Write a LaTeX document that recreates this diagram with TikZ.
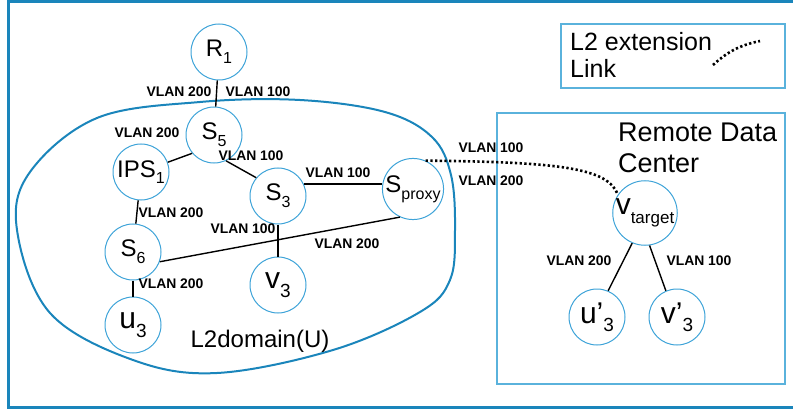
\documentclass[tikz,border=0pt]{standalone}
\usepackage{fontspec}
\setmainfont{Liberation Sans}
\usepackage{tikz}

\definecolor{framecol}{HTML}{1A85BB}
\definecolor{nodecol}{HTML}{3EA3D8}
\definecolor{boxcol}{HTML}{5AB2DC}

% subscript as printed in the diagram
\newcommand{\lowidx}[2][16]{\raisebox{-0.28em}{\fontsize{#1}{#1}\selectfont #2}}

\tikzset{
    dev/.style={circle, draw=nodecol, line width=1pt, minimum size=56pt, inner sep=0pt,
        font=\fontsize{24}{24}\selectfont},
    host/.style={dev, font=\fontsize{30}{30}\selectfont},
    link/.style={line width=1.4pt, black},
    l2ext/.style={line width=2.6pt, dash pattern=on 2.3pt off 2.4pt},
    vlan/.style={font=\fontsize{13.9}{14}\selectfont\bfseries, inner sep=0pt}
}

\begin{document}
\begin{tikzpicture}[x=1pt, y=-1pt]
    \useasboundingbox (0,0) rectangle (793,409);

    % outer frame
    \draw[framecol, line width=3pt] (8,1.5) rectangle (800,407.5);

    % legend box
    \draw[boxcol, line width=1.3pt] (561,24) rectangle (785,88);
    \node[anchor=base west, font=\fontsize{25}{25}\selectfont, align=left, inner sep=0pt] (legtext) at (570,51) {L2 extension};
    \node[anchor=base west, font=\fontsize{25}{25}\selectfont, inner sep=0pt] (legtext2) at (570,78) {Link};
    \coordinate (lega) at (713,65);
    \coordinate (legb) at (760,41);
    \draw[l2ext] (lega) to[bend left=15] (legb);

    % Remote Data Center box
    \draw[boxcol, line width=1.3pt] (497,113) rectangle (785,384);
    \node[anchor=base west, font=\fontsize{27}{27}\selectfont, inner sep=0pt] (rdc) at (618,142) {Remote Data};
    \node[anchor=base west, font=\fontsize{27}{27}\selectfont, inner sep=0pt] (rdc2) at (618,172) {Center};

    % L2 domain
    \draw[framecol, line width=2pt] plot[smooth cycle, tension=0.6] coordinates {
        (300,100) (385,112) (432,137) (451,175) (455,230) (450,280) (420,312)
        (333,350) (217,373) (133,360) (50,313) (17,230) (30,172) (97,118) (200,102)};
    \node[font=\fontsize{24}{24}\selectfont, inner sep=0pt] (dom) at (260,341) {L2domain(U)};

    % devices
    \node[dev] (r1) at (219,52) {R\lowidx{1}};
    \node[dev] (s5) at (214,135) {S\lowidx{5}};
    \node[dev] (ips1) at (141,172) {IPS\lowidx{1}};
    \node[dev] (s3) at (278,196) {S\lowidx{3}};
    \node[dev] (sproxy) at (413,189) {S\lowidx{proxy}};
    \node[dev] (s6) at (133,252) {S\lowidx{6}};
    \node[host] (v3) at (278,285) {v\lowidx[19]{3}};
    \node[host] (u3) at (133,325) {u\lowidx[19]{3}};
    \node[host] (vt) at (645,213) {v\lowidx[17]{target}};
    \node[host] (u3p) at (597,317) {u'\lowidx[19]{3}};
    \node[host] (v3p) at (677,317) {v'\lowidx[19]{3}};

    % links
    \draw[link] (r1) -- (s5);
    \draw[link] (s5.220) -- (ips1.20);
    \draw[link] (s5.-65) -- (s3.140);
    \draw[link] (s3.25) -- (s3.25 -| sproxy.west);
    \draw[link] (sproxy.245) -- (s6.-20);
    \draw[link] (s3) -- (v3);
    \draw[link] (ips1) -- (s6);
    \draw[link] (s6) -- (u3);
    \draw[link] (vt.247) -- (u3p.67);
    \draw[link] (vt.278) -- (v3p.113);

    % L2 extension
    \draw[l2ext] (sproxy.66) .. controls (560,162) and (608,168) .. (vt.146);

    % VLAN labels
    \node[vlan] (la) at (179,92) {VLAN 200};
    \node[vlan] (lb) at (258,92) {VLAN 100};
    \node[vlan] (lc) at (147,133) {VLAN 200};
    \node[vlan] (ld) at (251,156) {VLAN 100};
    \node[vlan] (le) at (338,173) {VLAN 100};
    \node[vlan] (lf) at (171,213) {VLAN 200};
    \node[vlan] (lg) at (243,229) {VLAN 100};
    \node[vlan] (lh) at (347,244) {VLAN 200};
    \node[vlan] (li) at (171,284) {VLAN 200};
    \node[vlan] (lj) at (491,148) {VLAN 100};
    \node[vlan] (lk) at (491,181) {VLAN 200};
    \node[vlan] (ll) at (579,261) {VLAN 200};
    \node[vlan] (lm) at (699,261) {VLAN 100};
\end{tikzpicture}
\end{document}
